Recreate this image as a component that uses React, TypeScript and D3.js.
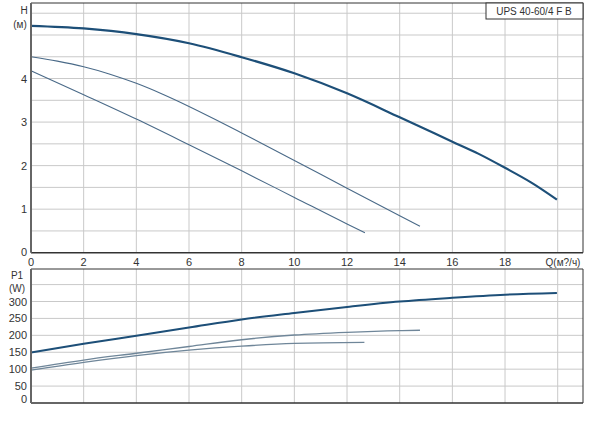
import React from "react";
import * as d3 from "d3";

// Q (m³/h) and H (m) curves
const hQ1 = [0, 2, 4, 6, 8, 10, 12, 14, 16, 17, 18, 19, 19.97];
const hH1 = [5.21, 5.15, 5.02, 4.81, 4.49, 4.12, 3.66, 3.11, 2.55, 2.27, 1.95, 1.61, 1.22];
const hQ2 = [0, 1, 2, 3, 4, 5, 6, 7, 8, 10, 12, 14, 14.77];
const hH2 = [4.5, 4.4, 4.27, 4.1, 3.89, 3.64, 3.36, 3.06, 2.75, 2.12, 1.48, 0.85, 0.61];
const hQ3 = [0, 2, 4, 6, 8, 10, 12, 12.68];
const hH3 = [4.18, 3.63, 3.07, 2.48, 1.88, 1.27, 0.66, 0.46];

// P1 (W) curves
const pQ1 = [0, 2, 4, 6, 8, 10, 12, 14, 16, 18, 19.97];
const pP1 = [149, 175, 199, 223, 247, 266, 284, 300, 311, 320, 325];
const pQ2 = [0, 2, 4, 6, 8, 10, 12, 14, 14.77];
const pP2 = [103, 127, 147, 167, 187, 201, 209, 214, 215];
const pQ3 = [0, 2, 4, 6, 8, 10, 12.66];
const pP3 = [97, 120, 140, 156, 168, 176, 179];

const xTicks = [0, 2, 4, 6, 8, 10, 12, 14, 16, 18];
const hTicks = [1, 2, 3, 4];
const hGrid = [0.5, 1, 1.5, 2, 2.5, 3, 3.5, 4, 4.5, 5, 5.5];
const pTicks = [0, 50, 100, 150, 200, 250, 300];
const pGrid = [50, 100, 150, 200, 250, 300, 350];
const xGrid = [2, 4, 6, 8, 10, 12, 14, 16, 18, 20];

const title = "UPS 40-60/4 F B";

const L = 31, R = 583;
const x = d3.scaleLinear().domain([0, 20]).range([L, 557.7]);
const yH = d3.scaleLinear().domain([0, 5]).range([252.7, 35]);
const yP = d3.scaleLinear().domain([0, 300]).range([403, 301.5]);

const font = "'Liberation Sans', Arial, sans-serif";

export default function App() {
  const lineH = d3
    .line<[number, number]>()
    .x((d) => x(d[0]))
    .y((d) => yH(d[1]))
    .curve(d3.curveMonotoneX);
  const lineP = d3
    .line<[number, number]>()
    .x((d) => x(d[0]))
    .y((d) => yP(d[1]))
    .curve(d3.curveMonotoneX);
  const zip = (a: number[], b: number[]) => a.map((v, i) => [v, b[i]] as [number, number]);

  const topT = 3, topB = yH(0);
  const botT = 269, botB = yP(0);
  const grid = "#c9c9c9";
  const txt = "#333";

  return (
    <svg
      width={600}
      height={437}
      style={{ position: "absolute", left: 0, top: 0, background: "#fff" }}
      fontFamily={font}
    >
      <rect width={600} height={437} fill="#fff" />
      {/* Top chart grid */}
      {hGrid.map((v) => (
        <line key={"hg" + v} x1={L} x2={R} y1={yH(v)} y2={yH(v)} stroke={grid} strokeWidth={1} />
      ))}
      {xGrid.map((v) => (
        <line key={"xg" + v} x1={x(v)} x2={x(v)} y1={topT} y2={topB} stroke={grid} strokeWidth={1} />
      ))}
      {/* Bottom chart grid */}
      {pGrid.map((v) => (
        <line key={"pg" + v} x1={L} x2={R} y1={yP(v)} y2={yP(v)} stroke={grid} strokeWidth={1} />
      ))}
      {xGrid.map((v) => (
        <line key={"xg2" + v} x1={x(v)} x2={x(v)} y1={botT} y2={botB} stroke={grid} strokeWidth={1} />
      ))}

      {/* Curves top */}
      <path d={lineH(zip(hQ3, hH3)) || ""} fill="none" stroke="#4a6a88" strokeWidth={1.1} />
      <path d={lineH(zip(hQ2, hH2)) || ""} fill="none" stroke="#4a6a88" strokeWidth={1.1} />
      <path d={lineH(zip(hQ1, hH1)) || ""} fill="none" stroke="#1d4f78" strokeWidth={2.2} />

      {/* Curves bottom */}
      <path d={lineP(zip(pQ3, pP3)) || ""} fill="none" stroke="#6f8699" strokeWidth={1.3} />
      <path d={lineP(zip(pQ2, pP2)) || ""} fill="none" stroke="#6f8699" strokeWidth={1.3} />
      <path d={lineP(zip(pQ1, pP1)) || ""} fill="none" stroke="#1d4f78" strokeWidth={2} />

      {/* Frames top */}
      <line x1={L} x2={R} y1={topT} y2={topT} stroke="#333" strokeWidth={1} />
      <line x1={R} x2={R} y1={topT} y2={topB} stroke="#333" strokeWidth={1} />
      <line x1={L} x2={R} y1={topB} y2={topB} stroke="#333" strokeWidth={1.5} />
      <line x1={L} x2={L} y1={topT} y2={topB} stroke="#666" strokeWidth={2} />
      {/* Frames bottom */}
      <line x1={L} x2={R} y1={botT} y2={botT} stroke="#333" strokeWidth={1} />
      <line x1={R} x2={R} y1={botT} y2={botB} stroke="#333" strokeWidth={1} />
      <line x1={L} x2={R} y1={botB} y2={botB} stroke="#333" strokeWidth={1.5} />
      <line x1={L} x2={L} y1={botT} y2={botB} stroke="#666" strokeWidth={2} />

      {/* Title box */}
      <rect x={486} y={topT} width={R - 486} height={16} fill="#fff" stroke="#333" strokeWidth={1} />
      <text x={534} y={15} fontSize={10} fill={txt} textAnchor="middle">
        {title}
      </text>

      {/* Top y labels */}
      <text x={24} y={14} fontSize={10} fill={txt} textAnchor="middle">H</text>
      <text x={20} y={28} fontSize={10} fill={txt} textAnchor="middle">(м)</text>
      {hTicks.map((v) => (
        <text key={"ht" + v} x={27} y={yH(v) + 4} fontSize={11} fill={txt} textAnchor="end">
          {v}
        </text>
      ))}
      <text x={27} y={yH(0) + 3} fontSize={11} fill={txt} textAnchor="end">0</text>

      {/* X labels */}
      {xTicks.map((v) => (
        <text key={"xt" + v} x={x(v)} y={266} fontSize={11} fill={txt} textAnchor="middle">
          {v}
        </text>
      ))}
      <text x={563} y={266} fontSize={10} fill={txt} textAnchor="middle">Q(м?/ч)</text>

      {/* Bottom y labels */}
      <text x={17} y={279} fontSize={10} fill={txt} textAnchor="middle">P1</text>
      <text x={17} y={292} fontSize={10} fill={txt} textAnchor="middle">(W)</text>
      {pTicks.map((v) => (
        <text
          key={"pt" + v}
          x={27}
          y={(v === 0 ? yP(v) - 4 : yP(v)) + 4}
          fontSize={11}
          fill={txt}
          textAnchor="end"
        >
          {v}
        </text>
      ))}
    </svg>
  );
}
